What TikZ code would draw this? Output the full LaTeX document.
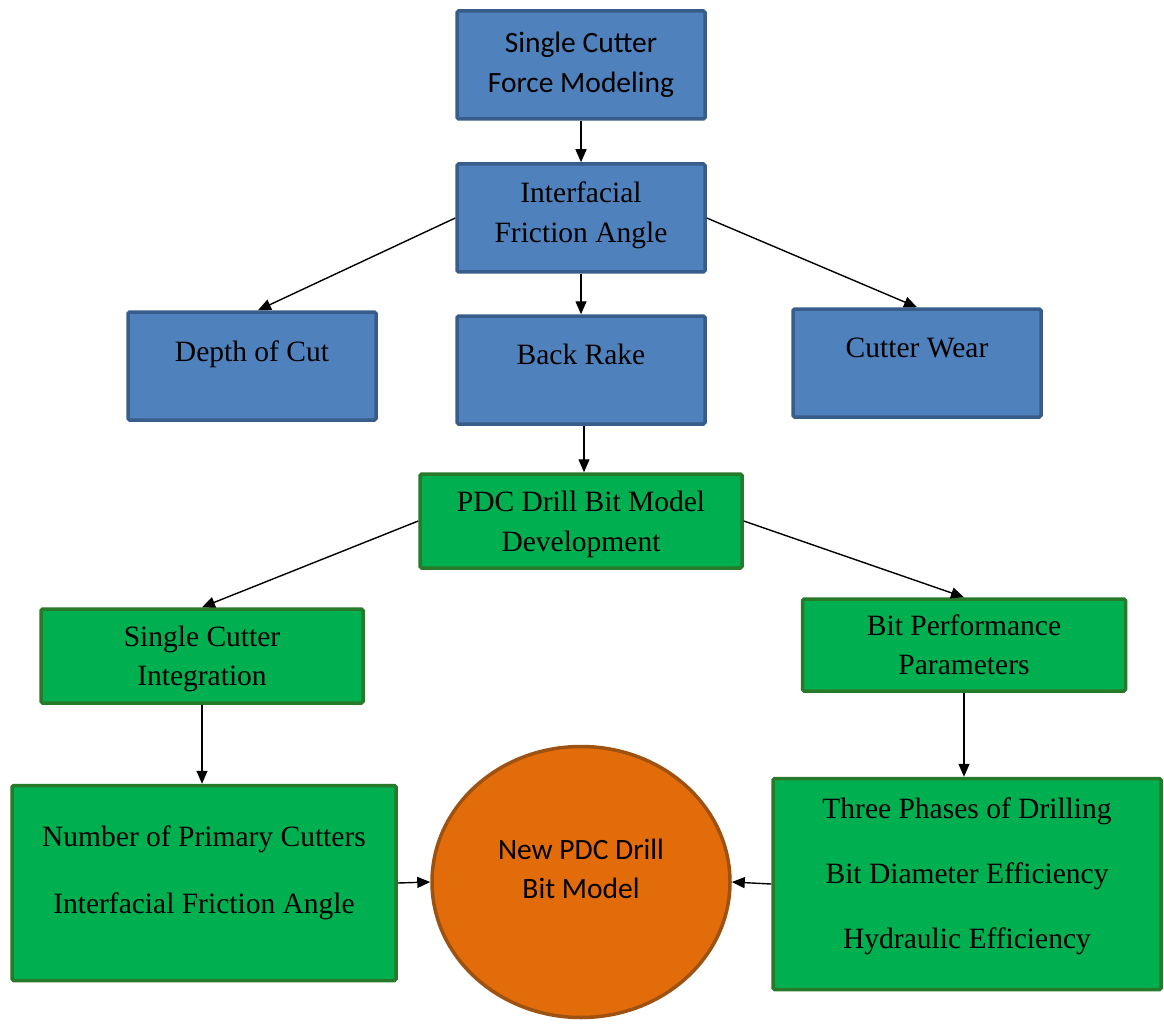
\documentclass[tikz,border=0pt]{standalone}
\usepackage{fontspec}
\setmainfont{Liberation Serif}
\newfontfamily\calfont{Carlito}
\usepackage{tikz}
\usetikzlibrary{shapes.geometric,arrows.meta}
\definecolor{bluefill}{HTML}{4F81BD}
\definecolor{blueline}{HTML}{385D8A}
\definecolor{greenfill}{HTML}{00B050}
\definecolor{greenline}{HTML}{277A29}
\definecolor{orangefill}{HTML}{E36C0A}
\definecolor{orangeline}{HTML}{9E5211}

\begin{document}
\begin{tikzpicture}[x=1pt,y=-1pt,
  bluebox/.style={draw=blueline,fill=bluefill,line width=3.5pt,rounded corners=1.5pt,
    minimum width=248,minimum height=108,align=center,font=\fontsize{29.5}{35}\selectfont},
  greenbox/.style={draw=greenline,fill=greenfill,line width=3.5pt,rounded corners=1.5pt,
    align=center,font=\fontsize{29.5}{35}\selectfont},
  flow/.style={line width=1.4pt,-{Triangle[length=13pt,width=11pt]}}]
\useasboundingbox (0,0) rectangle (1164,1024);
% blue part
\node[bluebox,font=\calfont\fontsize{29.5}{35}\selectfont] (force) at (581,65) {Single Cutter\\[5pt]Force Modeling};
\node[bluebox,text depth=12.5pt] (friction) at (581,218) {Interfacial\\[5pt]Friction Angle};
\node[bluebox,text depth=30pt] (depth) at (252,366) {Depth of Cut};
\node[bluebox,text depth=31pt] (rake) at (581,370) {Back Rake};
\node[bluebox,text depth=31pt] (wear) at (917,363) {Cutter Wear};
% green part
\node[greenbox,minimum width=322,minimum height=94,text depth=-1.5pt] (bitmodel) at (581,521) {PDC Drill Bit Model\\[5pt]Development};
\node[greenbox,minimum width=322,minimum height=94,text depth=-3.5pt] (integ) at (202,656) {Single Cutter\\[4pt]Integration};
\node[greenbox,minimum width=323,minimum height=92,text depth=-2pt] (perf) at (964,645) {Bit Performance\\[4pt]Parameters};
\node[greenbox,minimum width=384,minimum height=195,text depth=27pt] (cutters) at (204,883) {Number of Primary Cutters\\[32pt]Interfacial Friction Angle};
\node[greenbox,minimum width=388,minimum height=211,text depth=22pt] (phases) at (967,884) {Three Phases of Drilling\\[30pt]Bit Diameter Efficiency\\[30pt]Hydraulic Efficiency};
\node[ellipse,draw=orangeline,fill=orangefill,line width=3.5pt,minimum width=298,minimum height=271,
  align=center,text depth=27pt,font=\calfont\fontsize{29.5}{35}\selectfont] (newbit) at (581,882) {New PDC Drill\\[4pt]Bit Model};
% connectors
\draw[flow] (force) -- (friction);
\draw[flow] (friction.west) -- ([xshift=6pt]depth.north);
\draw[flow] (friction) -- (rake);
\draw[flow] (friction.east) -- (wear.north);
\draw[flow] ([xshift=3pt]rake.south) -- ([xshift=3pt]bitmodel.north);
\draw[flow] (bitmodel.west) -- (integ.north);
\draw[flow] (bitmodel.east) -- (perf.north);
\draw[flow] (integ) -- (integ|-cutters.north);
\draw[flow] (perf) -- (perf|-phases.north);
\draw[flow] (cutters.east) -- (newbit.west);
\draw[flow] (phases.west) -- (newbit.east);
\end{tikzpicture}
\end{document}
